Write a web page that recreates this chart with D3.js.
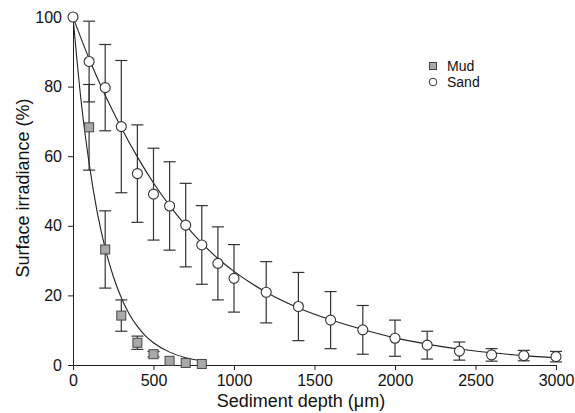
<!DOCTYPE html>
<html>
<head>
<meta charset="utf-8">
<script src="https://cdn.jsdelivr.net/npm/d3@7"></script>
<style>
  body { margin: 0; background: #fff; }
  text { font-family: "Liberation Sans", Arial, sans-serif; fill: #111; }
</style>
</head>
<body>
<div class="chart"></div>
<script>
// sand measurements: depth, irradiance, error
var sandDepth = [0, 100, 200, 300, 400, 500, 600, 700, 800, 900, 1000, 1200, 1400, 1600, 1800, 2000, 2200, 2400, 2600, 2800, 3000];
var sandValue = [100, 87.2, 79.7, 68.5, 55, 49.1, 45.7, 40.2, 34.5, 29.2, 24.9, 20.9, 16.8, 12.9, 10.1, 7.7, 5.7, 4.0, 2.9, 2.7, 2.4];
var sandErr   = [0, 11.6, 12.4, 19, 14, 13.2, 12.7, 12, 11.3, 10.5, 9.7, 8.8, 9.8, 8.2, 7, 5.2, 4, 2.6, 1.8, 1.5, 1.5];

// mud measurements
var mudDepth = [0, 100, 200, 300, 400, 500, 600, 700, 800];
var mudValue = [100, 68.3, 33.2, 14.2, 6.4, 3.1, 1.2, 0.6, 0.3];
var mudErr   = [0, 12.3, 11.1, 4.5, 1.9, 0.8, 0.5, 0.3, 0.2];

// fitted curves
var sandFitDepth = [0, 100, 200, 300, 400, 500, 600, 700, 800, 900, 1000, 1200, 1400, 1600, 1800, 2000, 2200, 2400, 2600, 2800, 3000];
var sandFitValue = [100, 88, 77.5, 68.2, 59.8, 52.3, 45.8, 40.1, 35, 30.6, 26.9, 20.9, 16.4, 13, 10.2, 7.8, 6.0, 4.6, 3.5, 2.7, 2.1];
var mudFitDepth = [0, 50, 100, 150, 200, 250, 300, 350, 400, 450, 500, 600, 700, 800];
var mudFitValue = [100, 76, 58, 44, 33.5, 25.5, 19.3, 14.6, 11.1, 8.4, 6.4, 3.7, 2.1, 1.2];

var xTicks = [0, 500, 1000, 1500, 2000, 2500, 3000];
var yTicks = [0, 20, 40, 60, 80, 100];

var svg = d3.select(".chart").append("svg")
    .attr("width", 575)
    .attr("height", 413);

var x = d3.scaleLinear().domain([0, 3000]).range([73, 556]);
var y = d3.scaleLinear().domain([0, 100]).range([365, 17]);

// axes
svg.append("g")
    .attr("transform", "translate(0,365)")
    .call(d3.axisBottom(x).tickValues(xTicks).tickFormat(d3.format("d")).tickSize(5).tickSizeOuter(0).tickPadding(5))
    .call(function (g) {
        g.select(".domain").attr("stroke", "#222");
        g.selectAll(".tick line").attr("stroke", "#222");
        g.selectAll("text").style("font-size", "16px").attr("fill", "#111");
    });

svg.append("g")
    .attr("transform", "translate(73,0)")
    .call(d3.axisLeft(y).tickValues(yTicks).tickSize(5).tickSizeOuter(0).tickPadding(6))
    .call(function (g) {
        g.select(".domain").attr("stroke", "#222");
        g.selectAll(".tick line").attr("stroke", "#222");
        g.selectAll("text").style("font-size", "16px").attr("fill", "#111");
    });

// axis titles
svg.append("text")
    .attr("x", 301)
    .attr("y", 407)
    .attr("text-anchor", "middle")
    .style("font-size", "18px")
    .text("Sediment depth (\u03BCm)");

svg.append("text")
    .attr("transform", "translate(29,188) rotate(-90)")
    .attr("text-anchor", "middle")
    .style("font-size", "18px")
    .text("Surface irradiance (%)");

// fit lines
var line = d3.line().curve(d3.curveMonotoneX);

svg.append("path")
    .attr("d", line(sandFitDepth.map(function (d, i) { return [x(d), y(sandFitValue[i])]; })))
    .attr("fill", "none")
    .attr("stroke", "#222")
    .attr("stroke-width", 1.1);

svg.append("path")
    .attr("d", line(mudFitDepth.map(function (d, i) { return [x(d), y(mudFitValue[i])]; })))
    .attr("fill", "none")
    .attr("stroke", "#222")
    .attr("stroke-width", 1.1);

// error bars
function errorBars(depth, value, err, cls) {
    var data = depth.map(function (d, i) { return {d: d, v: value[i], e: err[i]}; })
        .filter(function (p) { return p.e > 0.6; });
    var g = svg.append("g").attr("class", cls).attr("stroke", "#333").attr("stroke-width", 1.2);
    g.selectAll("line.v").data(data).enter().append("line")
        .attr("x1", function (p) { return x(p.d); })
        .attr("x2", function (p) { return x(p.d); })
        .attr("y1", function (p) { return y(p.v + p.e); })
        .attr("y2", function (p) { return y(p.v - p.e); });
    g.selectAll("line.t").data(data).enter().append("line")
        .attr("x1", function (p) { return x(p.d) - 6; })
        .attr("x2", function (p) { return x(p.d) + 6; })
        .attr("y1", function (p) { return y(p.v + p.e); })
        .attr("y2", function (p) { return y(p.v + p.e); });
    g.selectAll("line.b").data(data).enter().append("line")
        .attr("x1", function (p) { return x(p.d) - 6; })
        .attr("x2", function (p) { return x(p.d) + 6; })
        .attr("y1", function (p) { return y(p.v - p.e); })
        .attr("y2", function (p) { return y(p.v - p.e); });
}
errorBars(sandDepth, sandValue, sandErr, "sand-err");
errorBars(mudDepth, mudValue, mudErr, "mud-err");

// mud squares
svg.selectAll("rect.mud")
    .data(mudDepth.slice(1))
    .enter()
    .append("rect")
    .attr("class", "mud")
    .attr("x", function (d, i) { return x(d) - 4.5; })
    .attr("y", function (d, i) { return y(mudValue[i + 1]) - 4.5; })
    .attr("width", 9)
    .attr("height", 9)
    .attr("fill", "#a9a9a9")
    .attr("stroke", "#444")
    .attr("stroke-width", 1);

// sand circles
svg.selectAll("circle.sand")
    .data(sandDepth)
    .enter()
    .append("circle")
    .attr("class", "sand")
    .attr("cx", function (d) { return x(d); })
    .attr("cy", function (d, i) { return y(sandValue[i]); })
    .attr("r", 5)
    .attr("fill", "#fff")
    .attr("stroke", "#333")
    .attr("stroke-width", 1.1);

// legend
var legend = svg.append("g").attr("transform", "translate(433,66)");
legend.append("rect")
    .attr("x", -3.5).attr("y", -3.5)
    .attr("width", 7).attr("height", 7)
    .attr("fill", "#a9a9a9").attr("stroke", "#444");
legend.append("text")
    .attr("x", 14).attr("y", 5)
    .style("font-size", "14px")
    .text("Mud");
legend.append("circle")
    .attr("cx", 0).attr("cy", 16)
    .attr("r", 3.8)
    .attr("fill", "#fff").attr("stroke", "#333");
legend.append("text")
    .attr("x", 14).attr("y", 21)
    .style("font-size", "14px")
    .text("Sand");
</script>
</body>
</html>
